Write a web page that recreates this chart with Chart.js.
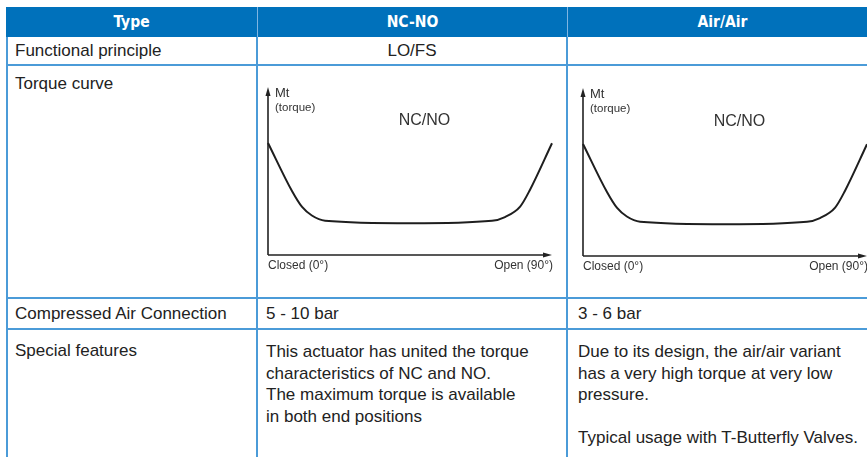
<!DOCTYPE html>
<html>
<head>
<meta charset="utf-8">
<script src="https://cdn.jsdelivr.net/npm/chart.js@4.4.1/dist/chart.umd.min.js"></script>
<style>
  html, body { margin: 0; padding: 0; background: #fff; overflow: hidden; width: 867px; height: 457px; }
  body { position: relative; font-family: "Liberation Sans", Arial, sans-serif; color: #222; }
  .cell {
    position: absolute; box-sizing: border-box;
    border-right: 2px solid #4b9bd8; border-bottom: 2px solid #4b9bd8;
    font-size: 17px; line-height: 21.6px; white-space: nowrap;
  }
  .head {
    background: #0071bb; color: #fff; border-bottom: none; border-right: 1px solid #7fb5e2;
    font-family: "Liberation Sans Narrow", "DejaVu Sans Condensed", sans-serif;
    font-weight: bold; font-size: 15.5px; text-align: center; line-height: 31px;
  }
  .mid { display: flex; align-items: center; }
  .edge { position: absolute; left: 6px; top: 7px; width: 2px; height: 460px; background: #4b9bd8; }
  .chart { position: absolute; top: 66px; width: 306px; height: 230px; z-index: 2; }
</style>
</head>
<body>
  <div class="edge"></div>

  <div class="cell head" style="left:6px;top:7px;width:252px;height:30px;">Type</div>
  <div class="cell head" style="left:258px;top:7px;width:310px;height:30px;">NC-NO</div>
  <div class="cell head" style="left:568px;top:7px;width:310px;height:30px;">Air/Air</div>

  <div class="cell mid" style="left:8px;top:37px;width:250px;height:29px;padding-left:7px;">Functional principle</div>
  <div class="cell mid" style="left:258px;top:37px;width:310px;height:29px;justify-content:center;">LO/FS</div>
  <div class="cell" style="left:568px;top:37px;width:310px;height:29px;"></div>

  <div class="cell" style="left:8px;top:66px;width:250px;height:233px;padding:7px 0 0 7px;">Torque curve</div>
  <div class="cell" style="left:258px;top:66px;width:310px;height:233px;"></div>
  <div class="cell" style="left:568px;top:66px;width:310px;height:233px;"></div>

  <div class="cell mid" style="left:8px;top:299px;width:250px;height:31px;padding-left:7px;">Compressed Air Connection</div>
  <div class="cell mid" style="left:258px;top:299px;width:310px;height:31px;padding-left:8px;">5 - 10 bar</div>
  <div class="cell mid" style="left:568px;top:299px;width:310px;height:31px;padding-left:10px;">3 - 6 bar</div>

  <div class="cell" style="left:8px;top:330px;width:250px;height:130px;padding:10px 0 0 7px;">Special features</div>
  <div class="cell" style="left:258px;top:330px;width:310px;height:130px;padding:11px 0 0 8px;">This actuator has united the torque<br>characteristics of NC and NO.<br>The maximum torque is available<br>in both end positions</div>
  <div class="cell" style="left:568px;top:330px;width:310px;height:130px;padding:11px 0 0 10px;">Due to its design, the air/air variant<br>has a very high torque at very low<br>pressure.<br><br>Typical usage with T-Butterfly Valves.</div>

  <div class="chart" style="left:258px;"><canvas id="ncnoChart"></canvas></div>
  <div class="chart" style="left:568px;"><canvas id="airChart"></canvas></div>

<script>
// valve angle in degrees (0 = closed, 90 = open)
const angles = [0, 7.6, 10.8, 13.9, 18.1, 45.3, 71, 75.1, 79.9, 83, 90];
// relative torque (axis top = 100)
const ncnoTorque = [66.7, 38.1, 28.6, 23.5, 20.4, 18.9, 20.4, 22.6, 28.8, 38.7, 66.5];
const airTorque = [66.7, 38.1, 28.6, 23.5, 20.4, 18.9, 20.4, 22.6, 28.8, 38.7, 66.5];

const yAxisLabel = "Mt";
const yAxisUnit = "(torque)";
const xTickLabels = ["Closed (0°)", "Open (90°)"];
const curveTitle = "NC/NO";

const axisArrows = {
  id: "axisArrows",
  beforeDatasetsDraw(chart) {
    const { ctx, scales: { x, y } } = chart;
    const x0 = x.getPixelForValue(0);
    const x1 = x.getPixelForValue(90);
    const y0 = y.getPixelForValue(0);
    const y1 = y.getPixelForValue(100);
    ctx.save();
    ctx.strokeStyle = "#222";
    ctx.fillStyle = "#222";
    ctx.lineWidth = 1.6;
    ctx.beginPath();
    ctx.moveTo(x0, y0);
    ctx.lineTo(x0, y1 + 6);
    ctx.moveTo(x0, y0);
    ctx.lineTo(x1 - 6, y0);
    ctx.stroke();

    ctx.beginPath();
    ctx.moveTo(x0, y1);
    ctx.lineTo(x0 - 2.5, y1 + 9);
    ctx.lineTo(x0 + 2.5, y1 + 9);
    ctx.closePath();
    ctx.fill();
    ctx.beginPath();
    ctx.moveTo(x1, y0);
    ctx.lineTo(x1 - 9, y0 - 2.5);
    ctx.lineTo(x1 - 9, y0 + 2.5);
    ctx.closePath();
    ctx.fill();

    ctx.fillStyle = "#333";
    ctx.textBaseline = "middle";
    ctx.textAlign = "left";
    ctx.font = '13px "Liberation Sans", Arial, sans-serif';
    ctx.fillText(yAxisLabel, x0 + 7, y1 + 6);
    ctx.font = '11.5px "Liberation Sans", Arial, sans-serif';
    ctx.fillText(yAxisUnit, x0 + 7, y1 + 21);

    ctx.font = '12px "Liberation Sans", Arial, sans-serif';
    ctx.fillText(xTickLabels[0], x0, y0 + 11);
    ctx.textAlign = "right";
    ctx.fillText(xTickLabels[1], x1 + 1, y0 + 11);

    ctx.textAlign = "center";
    ctx.font = '16px "Liberation Sans", Arial, sans-serif';
    ctx.fillText(curveTitle, x.getPixelForValue(49.6), y.getPixelForValue(79.8));
    ctx.restore();
  }
};

function makeTorqueChart(canvasId, values, padding) {
  return new Chart(document.getElementById(canvasId), {
    type: "line",
    data: {
      labels: angles,
      datasets: [{
        data: angles.map((a, i) => ({ x: a, y: values[i] })),
        borderColor: "#1e1e1e",
        borderWidth: 2,
        pointRadius: 0,
        cubicInterpolationMode: "monotone",
        clip: false,
      }],
    },
    options: {
      responsive: true,
      maintainAspectRatio: false,
      animation: false,
      layout: { padding },
      plugins: { legend: { display: false }, tooltip: { enabled: false } },
      scales: {
        x: { type: "linear", min: 0, max: 90, display: false },
        y: { min: 0, max: 100, display: false },
      },
    },
    plugins: [axisArrows],
  });
}

makeTorqueChart("ncnoChart", ncnoTorque, { left: 10, right: 12, top: 21, bottom: 41 });
makeTorqueChart("airChart", airTorque, { left: 15, right: 7, top: 22, bottom: 40 });
</script>
</body>
</html>
